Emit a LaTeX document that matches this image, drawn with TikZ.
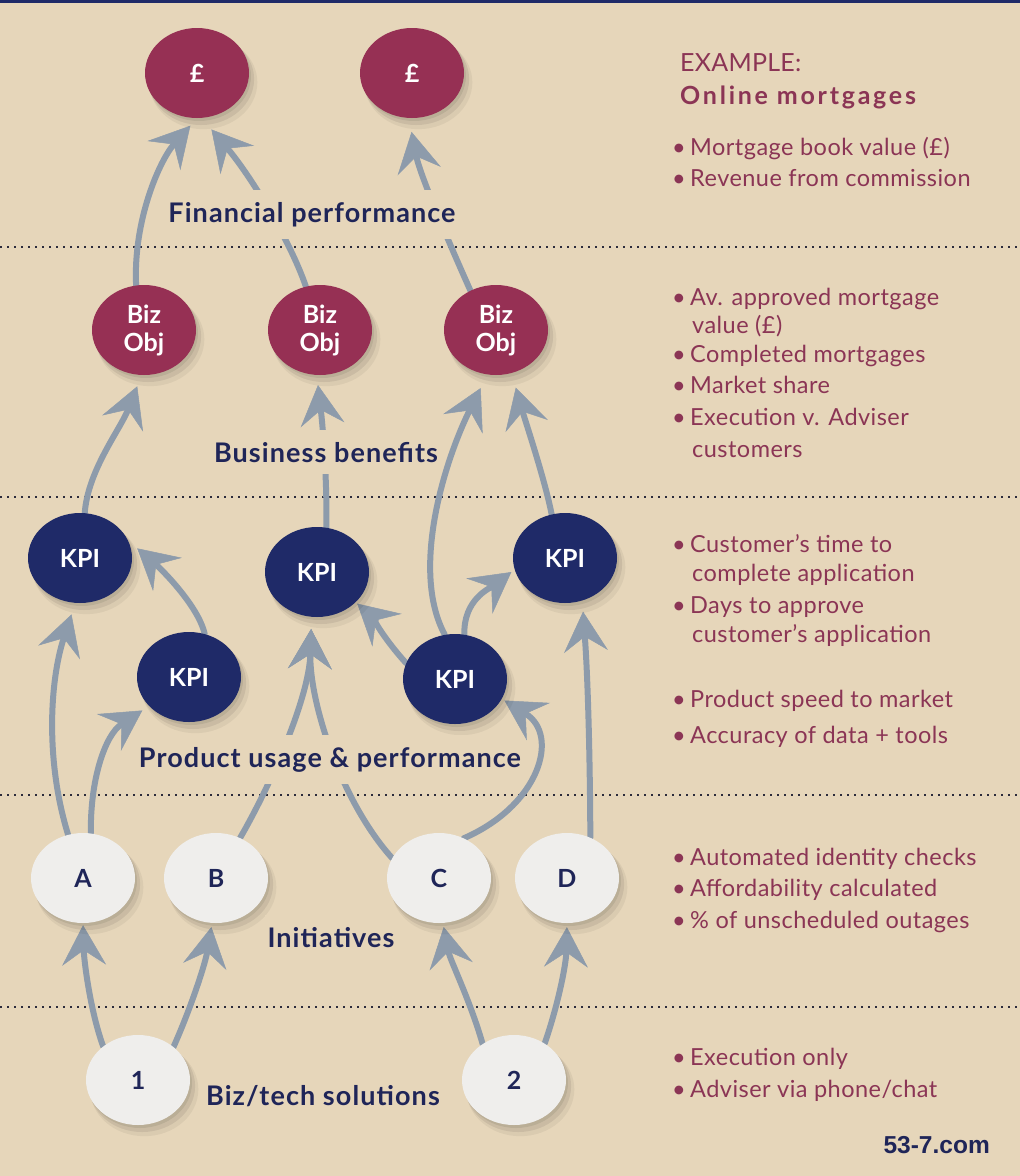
\documentclass[tikz,border=0pt]{standalone}
\usepackage{fontspec}
\setmainfont{Lato}
\newfontfamily\webfont{Liberation Sans}
\usetikzlibrary{arrows.meta,shapes.geometric,shadows}
\definecolor{bgc}{HTML}{E6D6BA}
\definecolor{maroonc}{HTML}{963054}
\definecolor{navyc}{HTML}{1F2A68}
\definecolor{navytext}{HTML}{1F2558}
\definecolor{lightnode}{HTML}{EFEEEC}
\definecolor{arrowc}{HTML}{8D9BAB}
\definecolor{sidetext}{HTML}{8B3555}
\definecolor{dotc}{HTML}{2B2B3B}
\pgfdeclarelayer{bglayer}
\pgfdeclarelayer{arrowlayer}
\pgfsetlayers{bglayer,arrowlayer,main}
\newcommand\sidebullet{\makebox[18pt][l]{•}}
\tikzset{
  blob/.style={ellipse, minimum width=104pt, minimum height=90pt, inner sep=0pt,
    font=\fontsize{25}{28}\selectfont\bfseries, align=center,
    drop shadow={shadow xshift=2pt, shadow yshift=-3pt, fill=black, opacity=0.07},
    drop shadow={shadow xshift=4pt, shadow yshift=-6pt, fill=black, opacity=0.07, shadow scale=1.02},
    drop shadow={shadow xshift=6pt, shadow yshift=-9pt, fill=black, opacity=0.05, shadow scale=1.04}},
  money/.style={blob, fill=maroonc, text=white},
  kpi/.style={blob, fill=navyc, text=white},
  initnode/.style={blob, fill=lightnode, text=navytext},
  layerlabel/.style={fill=bgc, text=navytext,
    font=\fontsize{27}{32}\selectfont\bfseries\addfontfeatures{LetterSpace=4},
    inner xsep=3pt, inner ysep=12pt, anchor=base},
  chalk/.style={draw=arrowc, line width=6pt, line cap=round,
    -{Stealth[length=40pt,width=44pt,inset=15pt,line width=0.5pt]}},
  sidetxt/.style={text=sidetext, font=\fontsize{23.5}{28}\selectfont\addfontfeatures{LetterSpace=2},
    anchor=base west, inner sep=0pt},
  dotline/.style={draw=dotc, line width=2pt, dash pattern=on 2pt off 5pt},
}
\begin{document}
\begin{tikzpicture}[x=1pt,y=-1pt]
\useasboundingbox (0,0) rectangle (1020,1176);
\begin{pgfonlayer}{bglayer}
\fill[bgc] (0,0) rectangle (1020,1176);
\fill[navyc] (0,0) rectangle (1020,2.5);
\draw[dotline] (0,247) -- (1020,247);
\draw[dotline] (0,497) -- (1020,497);
\draw[dotline] (0,795) -- (1020,795);
\draw[dotline] (0,1007) -- (1020,1007);
\end{pgfonlayer}

% nodes
\node[money] (f1) at (197,73) {£};
\node[money] (f2) at (412,73) {£};
\node[money] (bo1) at (144,330) {Biz\\Obj};
\node[money] (bo2) at (320,330) {Biz\\Obj};
\node[money] (bo3) at (496,330) {Biz\\Obj};
\node[kpi] (k1) at (80,558) {KPI};
\node[kpi] (k2) at (317,572) {KPI};
\node[kpi] (k3) at (565,558) {KPI};
\node[kpi] (k4) at (189,677) {KPI};
\node[kpi] (k5) at (455,679) {KPI};
\node[initnode] (a) at (83,878) {A};
\node[initnode] (b) at (216,878) {B};
\node[initnode] (c) at (439,878) {C};
\node[initnode] (d) at (567,878) {D};
\node[initnode] (s1) at (138,1080) {1};
\node[initnode] (s2) at (514,1080) {2};

% layer labels
\node[layerlabel] (lf) at (312,222) {Financial performance};
\node[layerlabel] (lb) at (326,462) {Business benefits};
\node[layerlabel] (lp) at (330,767) {Product usage \& performance};
\node[layerlabel] (li) at (331,947) {Initiatives};
\node[layerlabel] (ls) at (323,1105) {Biz/tech solutions};

% arrows
\begin{pgfonlayer}{arrowlayer}
\draw[chalk, shorten >=10pt] (bo1.100) .. controls (133,220) and (160,160) .. (f1.-90);
\draw[chalk, shorten >=15pt] (bo2.108) .. controls (290,240) and (250,175) .. (f1.-84);
\draw[chalk, shorten >=14pt] (bo3.123) .. controls (450,245) and (420,175) .. (f2.-94);
\draw[chalk, shorten >=12pt] (k1.84) .. controls (88,470) and (120,430) .. (bo1.-93);
\draw[chalk, shorten >=10pt] (k2.78) .. controls (327,470) and (322,420) .. (bo2.-94);
\draw[chalk, shorten >=15pt] (k5.103) .. controls (410,570) and (445,460) .. (bo3.-101);
\draw[chalk, shorten >=15pt] (k3.107) .. controls (545,480) and (525,420) .. (bo3.-70);
\draw[chalk, shorten >=12pt] (k4.70) .. controls (198,605) and (160,568) .. (k1.20);
\draw[chalk, shorten >=12pt] (a.109) .. controls (45,760) and (50,680) .. (k1.-96);
\draw[chalk, shorten >=8pt] (a.80) .. controls (90,780) and (105,735) .. (k4.-144);
\draw[chalk, shorten >=12pt] (b.59) .. controls (268,790) and (309,700) .. (k2.-97);
\draw[chalk, shorten >=12pt] (c.157) .. controls (340,800) and (309,700) .. (k2.-97);
\draw[chalk, shorten >=2pt] (k5.162) .. controls (385,640) and (370,615) .. (k2.-38);
\draw[chalk, shorten >=4pt] (k5.78) .. controls (463,600) and (490,588) .. (k3.193);
\draw[chalk, shorten >=3pt] (c.58) .. controls (540,805) and (560,735) .. (k5.-23);
\draw[chalk, shorten >=11pt] (d.60) .. controls (590,760) and (588,680) .. (k3.-68);
\draw[chalk, shorten >=2pt] (s1.136) .. controls (90,1010) and (84,960) .. (a.-90);
\draw[chalk, shorten >=4pt] (s1.43) .. controls (190,1010) and (205,965) .. (b.-95);
\draw[chalk, shorten >=4pt] (s2.131) .. controls (470,1000) and (450,960) .. (c.-85);
\draw[chalk, shorten >=4pt] (s2.50) .. controls (558,1005) and (566,965) .. (d.-90);
\end{pgfonlayer}

% side text
\node[sidetxt, font=\fontsize{25}{28}\selectfont\addfontfeatures{LetterSpace=1}] (ex) at (680,71) {EXAMPLE:};
\node[sidetxt, font=\fontsize{25}{28}\selectfont\bfseries\addfontfeatures{LetterSpace=11}] (om) at (680,104) {Online mortgages};
\node[sidetxt] (t1) at (672,155) {\sidebullet Mortgage book value (£)};
\node[sidetxt] (t2) at (672,186) {\sidebullet Revenue from commission};
\node[sidetxt] (t3) at (672,305) {\sidebullet Av. approved mortgage};
\node[sidetxt] (t4) at (692,333) {value (£)};
\node[sidetxt] (t5) at (672,362) {\sidebullet Completed mortgages};
\node[sidetxt] (t6) at (672,393) {\sidebullet Market share};
\node[sidetxt] (t7) at (672,425) {\sidebullet Execution v. Adviser};
\node[sidetxt] (t8) at (692,457) {customers};
\node[sidetxt] (t9) at (672,552) {\sidebullet Customer’s time to};
\node[sidetxt] (t10) at (692,581) {complete application};
\node[sidetxt] (t11) at (672,613) {\sidebullet Days to approve};
\node[sidetxt] (t12) at (692,642) {customer’s application};
\node[sidetxt] (t13) at (672,707) {\sidebullet Product speed to market};
\node[sidetxt] (t14) at (672,743) {\sidebullet Accuracy of data + tools};
\node[sidetxt] (t15) at (672,865) {\sidebullet Automated identity checks};
\node[sidetxt] (t16) at (672,896) {\sidebullet Affordability calculated};
\node[sidetxt] (t17) at (672,928) {\sidebullet \% of unscheduled outages};
\node[sidetxt] (t18) at (672,1065) {\sidebullet Execution only};
\node[sidetxt] (t19) at (672,1097) {\sidebullet Adviser via phone/chat};
\node[anchor=base east, inner sep=0pt, text=navytext, font=\webfont\bfseries\fontsize{24.5}{28}\selectfont] (web) at (990,1153) {53-7.com};
\end{tikzpicture}
\end{document}
